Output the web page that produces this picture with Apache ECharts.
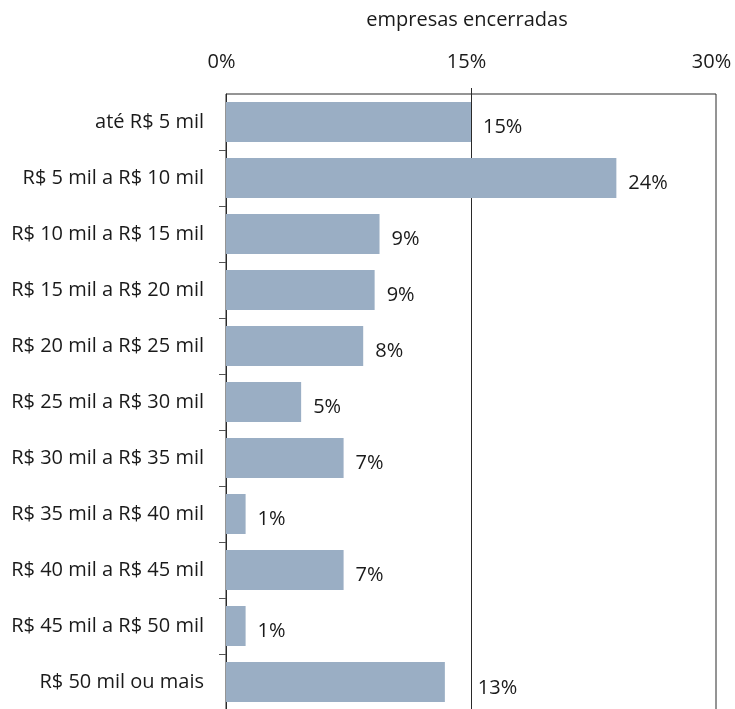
<!DOCTYPE html>
<html>
<head>
<meta charset="utf-8">
<script src="https://cdn.jsdelivr.net/npm/echarts@6/dist/echarts.min.js"></script>
<style>
  html, body { margin: 0; padding: 0; background: #fff; }
  #chart { width: 735px; height: 709px; }
</style>
</head>
<body>
<div id="chart"></div>
<script>
// Faixas de faturamento (de cima para baixo)
const categories = [
  'até R$ 5 mil',
  'R$ 5 mil a R$ 10 mil',
  'R$ 10 mil a R$ 15 mil',
  'R$ 15 mil a R$ 20 mil',
  'R$ 20 mil a R$ 25 mil',
  'R$ 25 mil a R$ 30 mil',
  'R$ 30 mil a R$ 35 mil',
  'R$ 35 mil a R$ 40 mil',
  'R$ 40 mil a R$ 45 mil',
  'R$ 45 mil a R$ 50 mil',
  'R$ 50 mil ou mais'
];

// Participação das empresas encerradas (%)
const shares = [15.0, 23.9, 9.4, 9.1, 8.4, 4.6, 7.2, 1.2, 7.2, 1.2, 13.4];

// Marcas do eixo horizontal
const axisTicks = [0, 15, 30];
const axisTitle = 'empresas encerradas';

const FONT = '"Open Sans", "Noto Sans", sans-serif';
const TEXT = '#1a1a1a';
const LINE = '#2a2a2a';

const chart = echarts.init(document.getElementById('chart'), null, { renderer: 'canvas' });

const barData = shares.map((v, i) => {
  const item = { value: v };
  // o rótulo da última faixa fica mais afastado da barra
  if (i === shares.length - 1) item.label = { offset: [21, 6] };
  return item;
});

chart.setOption({
  animation: false,
  title: {
    text: axisTitle,
    left: 462,
    textAlign: 'center',
    top: 5,
    textStyle: { fontFamily: FONT, fontSize: 20, fontWeight: 'normal', color: TEXT }
  },
  grid: {
    left: 226, right: 19, top: 94, bottom: -1,
    containLabel: false, outerBoundsMode: 'none',
    show: true, borderColor: LINE, borderWidth: 1, backgroundColor: 'transparent'
  },
  xAxis: {
    type: 'value',
    position: 'top',
    min: axisTicks[0],
    max: axisTicks[axisTicks.length - 1],
    interval: 15,
    axisLine: { show: false },
    axisTick: {
      show: true, inside: false, length: 6,
      customValues: [15],
      lineStyle: { color: LINE, width: 1 }
    },
    axisLabel: {
      customValues: axisTicks,
      formatter: v => v + '%',
      margin: 22,
      padding: [0, 9, 0, 0],
      fontFamily: FONT, fontSize: 20, color: TEXT
    },
    splitLine: { show: true, lineStyle: { color: LINE, width: 1 } }
  },
  yAxis: {
    type: 'category',
    data: categories,
    inverse: true,
    axisLine: { show: true, onZero: false, lineStyle: { color: LINE, width: 1 } },
    axisTick: {
      show: true, length: 7,
      interval: i => i > 0,
      lineStyle: { color: '#555', width: 1 }
    },
    axisLabel: {
      margin: 22,
      fontFamily: FONT, fontSize: 20, color: TEXT
    }
  },
  series: [{
    type: 'bar',
    data: barData,
    barWidth: 40,
    itemStyle: { color: '#9AAEC4' },
    label: {
      show: true,
      position: 'right',
      distance: 12,
      offset: [0, 5],
      formatter: p => Math.round(p.value) + '%',
      fontFamily: FONT, fontSize: 20, color: TEXT
    }
  }]
});
</script>
</body>
</html>
